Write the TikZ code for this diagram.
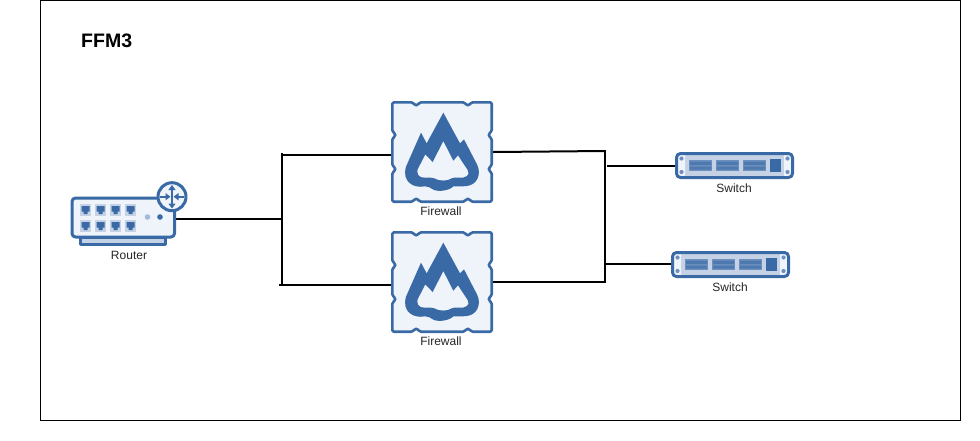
\documentclass[tikz,border=0pt]{standalone}
\usepackage{fontspec}
\setmainfont{Liberation Sans}
\usetikzlibrary{arrows.meta,calc}
\definecolor{iconblue}{HTML}{3A6AA5}
\definecolor{iconpale}{HTML}{EFF3FA}
\definecolor{iconmid}{HTML}{C5D2E6}
\definecolor{iconsoft}{HTML}{6E90BF}
\definecolor{icondot}{HTML}{A5BBDB}
\tikzset{
  wire/.style={draw=black,line width=2pt},
  lbl/.style={inner sep=0pt,font=\fontsize{12}{14}\selectfont,text=black!85},
  anchorbox/.style={inner sep=0pt,outer sep=0pt,draw=none},
  iconline/.style={draw=iconblue,line width=3pt,line join=round},
  portbox/.style={fill=iconmid,draw=none},
  pointer/.style={draw=iconblue,line width=1.7pt,-{Triangle[length=5pt,width=7pt]}},
}
\newcommand{\firewallicon}[2]{%
  \begin{scope}[shift={(#1+1.3,#2+1.3)},x=0.975pt,y=-0.975pt]
    \draw[iconline,fill=iconpale,line width=2.6pt,rounded corners=1.5pt]
      (0,0) -- (21,0) -- (23,3) -- (26,3) -- (28,0) -- (74,0) -- (76,3) -- (79,3) -- (81,0) -- (102,0)
      -- (102,30) -- (99,32) -- (99,35) -- (102,37) -- (102,65) -- (99,67) -- (99,70) -- (102,72) -- (102,102)
      -- (81,102) -- (79,99) -- (76,99) -- (74,102) -- (28,102) -- (26,99) -- (23,99) -- (21,102) -- (0,102)
      -- (0,72) -- (3,70) -- (3,67) -- (0,65) -- (0,37) -- (3,35) -- (3,32) -- (0,30) -- cycle;
  \end{scope}
  \begin{scope}[shift={(#1+9,#2+9)},x=0.3333pt,y=-0.3333pt]
    \fill[iconblue,even odd rule]
      (130,8) -- (180,100) -- (192,88) -- (232,165) .. controls (245,195) and (230,225) .. (200,228)
      .. controls (185,230) and (170,229) .. (160,229) .. controls (150,241) and (112,249) .. (95,236)
      .. controls (90,233) and (85,229) .. (75,229) .. controls (40,236) and (5,215) .. (18,170)
      -- (63,68) -- (80,100) -- cycle
      (130,93) -- (160,152) -- (174,136) -- (203,180) .. controls (213,196) and (195,205) .. (178,203)
      .. controls (165,202) and (160,203) .. (155,205) .. controls (145,214) and (115,214) .. (103,205)
      .. controls (95,201) and (85,203) .. (75,203) .. controls (57,205) and (44,190) .. (57,170)
      -- (76,133) -- (98,156) -- cycle;
  \end{scope}}
\newcommand{\switchicon}[2]{%
  \begin{scope}[shift={(#1,#2)}]
    \fill[iconmid,rounded corners=3pt] (1.5,1.5) rectangle (117.5,25.5);
    \fill[iconpale] (3,3) rectangle (10,24) (109,3) rectangle (116,24);
    \foreach \a/\b in {14/37,41/64,68/91}{
      \fill[iconsoft] (\a,8) rectangle (\b,19);
      \fill[iconblue!90!white] (\a+1,9.5) rectangle (\b-1,13) (\a+1,14.5) rectangle (\b-1,17.5);
    }
    \fill[iconblue] (95,7) rectangle (106,20);
    \foreach \a in {6.5,112.5}{
      \fill[iconsoft] (\a,6.5) circle (2.1) (\a,20) circle (2.1);
    }
    \draw[iconline,rounded corners=4pt] (1.5,1.5) rectangle (117.5,25.5);
  \end{scope}}
\begin{document}
\begin{tikzpicture}[x=1pt,y=-1pt]
  \useasboundingbox (0,0) rectangle (980,440);
  \fill[white] (0,0) rectangle (980,440);
  \draw[black,line width=1pt] (40.5,0.5) rectangle (960.5,420.5);
  \node[anchor=west,inner sep=0pt,font=\fontsize{19.5}{22}\selectfont\bfseries] (title) at (81,41) {FFM3};

  % anchor boxes for the devices
  \node[anchorbox,minimum width=105pt,minimum height=41pt] (rtr) at (123.5,219) {};
  \node[anchorbox,minimum width=102pt,minimum height=102pt] (fwa) at (442,152) {};
  \node[anchorbox,minimum width=102pt,minimum height=102pt] (fwb) at (442,282) {};
  \node[anchorbox,minimum width=119pt,minimum height=27pt] (swa) at (734.5,165.5) {};
  \node[anchorbox,minimum width=119pt,minimum height=27pt] (swb) at (730.5,264.5) {};

  \coordinate (lt) at (282,153);
  \coordinate (lb) at (282,286);
  \coordinate (lm) at (282,219);
  \coordinate (lta) at (282,155);
  \coordinate (lba) at (279,285);
  \coordinate (rt) at (605,151);
  \coordinate (rb) at (605,282);
  \coordinate (rsa) at (607,166);
  \coordinate (rsb) at (605,264);
  \coordinate (rvt) at (605,150);
  \coordinate (rvb) at (605,283);

  % connectors
  \draw[wire] (rtr.east) -- (lm);
  \draw[wire] (lt) -- (lb);
  \draw[wire] (lta) -- (fwa.west |- lta);
  \draw[wire] (lba) -- (fwb.west |- lba);
  \draw[wire] (fwa.east) -- (rt);
  \draw[wire] (fwb.east) -- (rb);
  \draw[wire] (rvt) -- (rvb);
  \draw[wire] (rsa) -- (swa.west |- rsa);
  \draw[wire] (rsb) -- (swb.west |- rsb);

  % router icon
  \draw[iconline,fill=iconmid] (80.5,237) rectangle (165.5,244.5);
  \draw[iconline,fill=iconpale,rounded corners=3.5pt] (72,198) rectangle (174.5,237);
  \foreach \px in {80,95,110,125}{
    \foreach \py in {204,220}{
      \fill[portbox] (\px,\py) rectangle +(11,12);
      \fill[iconblue] (\px+1.5,\py+2) -- (\px+9.5,\py+2) -- (\px+9.5,\py+7.5) -- (\px+7.5,\py+7.5) -- (\px+7.5,\py+10) -- (\px+3.5,\py+10) -- (\px+3.5,\py+7.5) -- (\px+1.5,\py+7.5) -- cycle;
    }
  }
  \fill[icondot] (147.5,217) circle (2.8);
  \fill[iconblue] (160,217) circle (2.8);
  \draw[iconline,fill=iconpale] (172,196.7) circle (14);
  \draw[pointer,{Triangle[length=5pt,width=7pt]}-{Triangle[length=5pt,width=7pt]}] (172,185) -- (172,208.5);
  \draw[pointer] (160,196.7) -- (170.5,196.7);
  \draw[pointer] (184,196.7) -- (173.5,196.7);

  % firewalls and switches
  \firewallicon{391}{101}
  \firewallicon{391}{231}
  \switchicon{675}{152}
  \switchicon{671}{251}

  % labels
  \node[lbl] (lr) at (129,255) {Router};
  \node[lbl] (lfa) at (441,211.5) {Firewall};
  \node[lbl] (lfb) at (441,341.5) {Firewall};
  \node[lbl] (lsa) at (734,188) {Switch};
  \node[lbl] (lsb) at (730,287) {Switch};
\end{tikzpicture}
\end{document}
